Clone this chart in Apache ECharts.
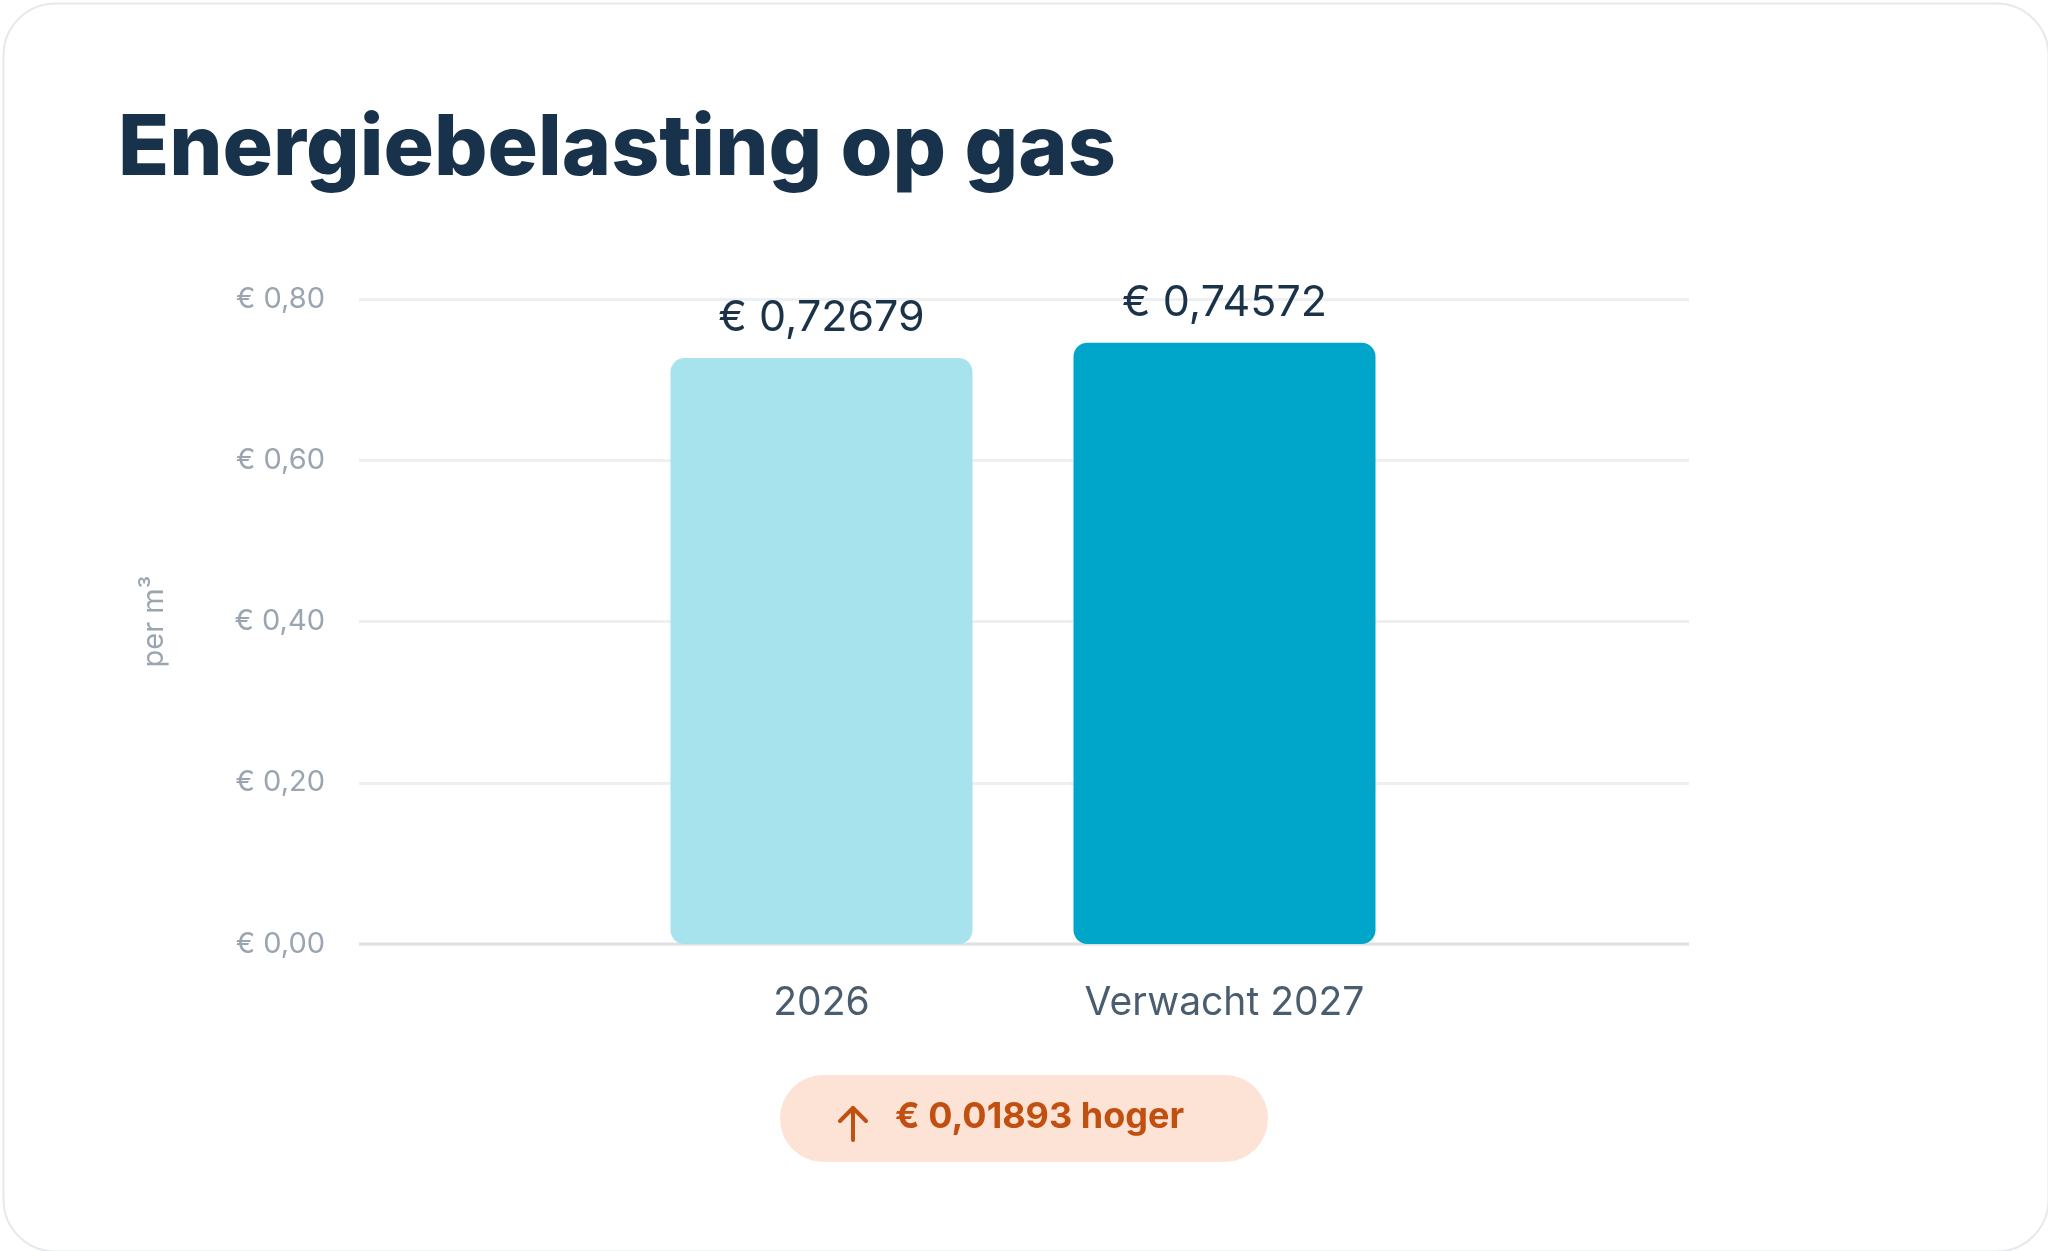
<!DOCTYPE html>
<html><head><meta charset="utf-8">
<script src="https://cdn.jsdelivr.net/npm/echarts@6/dist/echarts.min.js"></script>
<style>html,body{margin:0;padding:0;background:#fff}#c{width:2048px;height:1251px}</style>
</head><body><div id="c"></div>
<script>
const categories = ['2026', 'Verwacht 2027'];
const values = [0.72679, 0.74572];
const valueLabels = ['€ 0,72679', '€ 0,74572'];
const barColors = ['#a6e3ed', '#00a6c9'];
const title = 'Energiebelasting op gas';
const badgeText = '€ 0,01893 hoger';
const yTickFmt = v => '€ ' + v.toFixed(2).replace('.', ',');

const chart = echarts.init(document.getElementById('c'));
chart.setOption({
  backgroundColor: '#fff',
  animation: false,
  grid: [
    {left: 359, right: 2048 - 1689, top: 299, bottom: 1251 - 944},
    {left: 620, right: 2048 - 1426, top: 299, bottom: 1251 - 944}
  ],
  xAxis: [
    {gridIndex: 0, type: 'value', min: 0, max: 1, show: false},
    {gridIndex: 1, type: 'category', data: categories,
     axisLine: {show: false}, axisTick: {show: false},
     axisLabel: {margin: 40, fontSize: 39, color: '#4a5d6e', fontFamily: 'Inter'}}
  ],
  yAxis: [
    {gridIndex: 0, type: 'value', min: 0, max: 0.8, interval: 0.2,
     name: 'per m³', nameLocation: 'middle', nameGap: 190, nameRotate: 90,
     nameTextStyle: {fontSize: 29, color: '#9aa5b1', fontFamily: 'Inter'},
     axisLine: {show: false}, axisTick: {show: false},
     axisLabel: {formatter: yTickFmt, fontSize: 29, color: '#9aa5b1', margin: 34, fontFamily: 'Inter'},
     splitLine: {lineStyle: {color: '#eeeff1', width: 3}}},
    {gridIndex: 1, type: 'value', min: 0, max: 0.8, show: false}
  ],
  series: [
    {type: 'line', xAxisIndex: 0, yAxisIndex: 0, data: [[0, 0], [1, 0]], symbol: 'none',
     lineStyle: {color: '#dde0e5', width: 3}, z: 1},
    {type: 'bar', xAxisIndex: 1, yAxisIndex: 1, barWidth: 302, z: 3,
     data: values.map((v, i) => ({value: v, itemStyle: {color: barColors[i], borderRadius: 14},
       label: {formatter: valueLabels[i]}})),
     label: {show: true, position: 'top', distance: 18, fontSize: 43, color: '#1a3349', fontFamily: 'Inter'}}
  ],
  graphic: [
    {type: 'rect', left: 1, top: 1, shape: {width: 2045, height: 1248, r: 52},
     style: {fill: 'none', stroke: '#e6e8eb', lineWidth: 2}, z: -1},
    {type: 'text', left: 118, top: 108, style: {text: title, fontSize: 84, fontWeight: 800,
      fill: '#17324a', fontFamily: 'Inter'}},
    {type: 'rect', left: 780, top: 1075, shape: {width: 488, height: 87, r: 44},
     style: {fill: '#fde3d5'}},
    {type: 'text', left: 895, top: 1099, style: {text: badgeText, fontSize: 36, fontWeight: 700,
      fill: '#c04f10', fontFamily: 'Inter'}},
    {type: 'polyline', shape: {points: [[853, 1140], [853, 1108]]},
     style: {stroke: '#c04f10', lineWidth: 4, fill: 'none', lineCap: 'round'}},
    {type: 'polyline', shape: {points: [[840, 1121], [853, 1108], [866, 1121]]},
     style: {stroke: '#c04f10', lineWidth: 4, fill: 'none', lineCap: 'round', lineJoin: 'round'}}
  ]
});
</script></body></html>
